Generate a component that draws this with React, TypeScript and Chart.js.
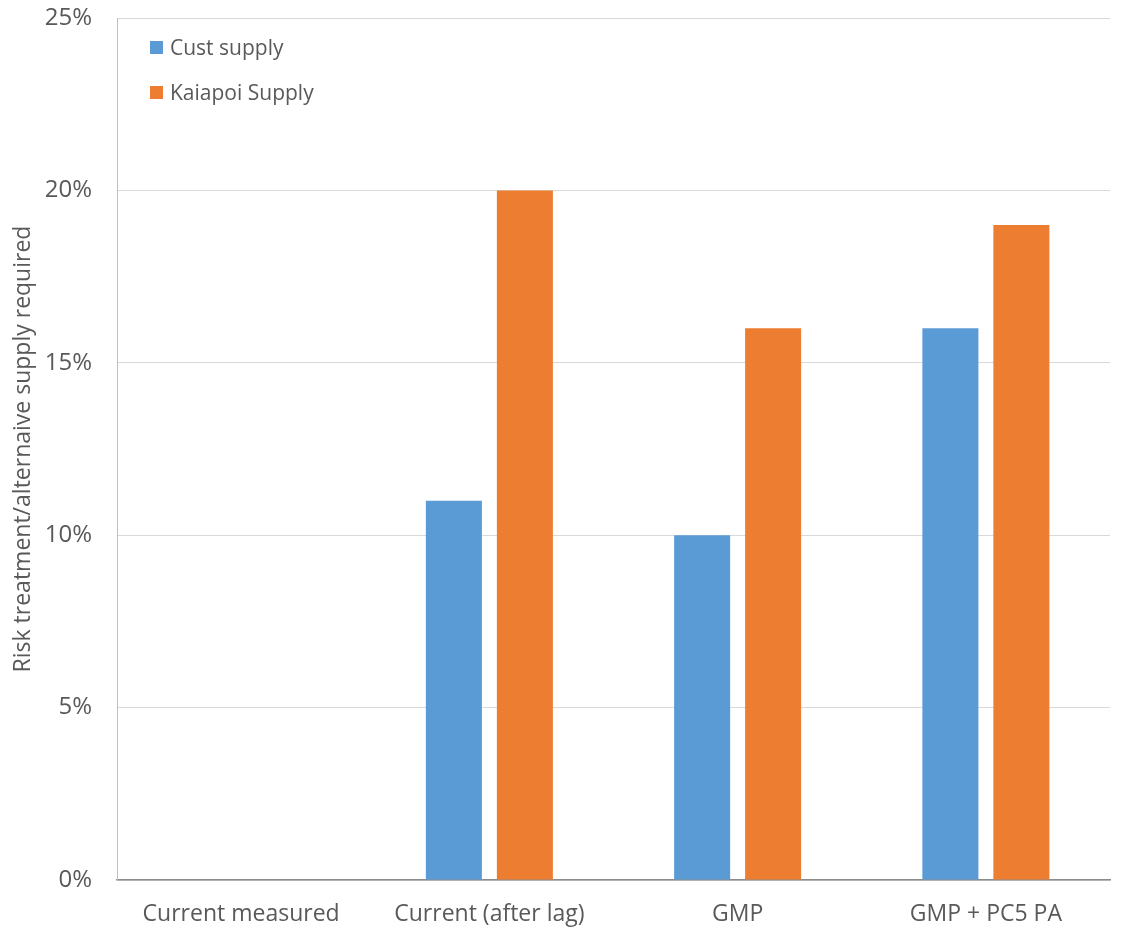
import React, { useEffect, useRef } from "react";
import { Chart, registerables } from "chart.js";

Chart.register(...registerables);

const categories = ["Current measured", "Current (after lag)", "GMP", "GMP + PC5 PA"];
const custSupply = [0, 11, 10, 16];
const kaiapoiSupply = [0, 20, 16, 19];
const seriesNames = ["Cust supply", "Kaiapoi Supply"];
const seriesColors = ["#5b9bd5", "#ed7d31"];
const yTicks = [0, 5, 10, 15, 20, 25];
const yTitle = "Risk treatment/alternaive supply required";

const FONT = "'Open Sans', 'Noto Sans', sans-serif";
const TEXT = "#595959";

const legendPlugin = {
  id: "insideLegend",
  afterDraw(chart: any) {
    const ctx = chart.ctx;
    const area = chart.chartArea;
    ctx.save();
    ctx.font = `21px ${FONT}`;
    ctx.textBaseline = "middle";
    chart.data.datasets.forEach((ds: any, i: number) => {
      const y = area.top + 30 + i * 45;
      const x = area.left + 33;
      ctx.fillStyle = ds.backgroundColor;
      ctx.fillRect(x, y - 7, 13, 13);
      ctx.fillStyle = TEXT;
      ctx.fillText(ds.label, x + 20, y + 1);
    });
    ctx.restore();
  },
};

export default function App() {
  const ref = useRef<HTMLCanvasElement | null>(null);
  useEffect(() => {
    if (!ref.current) return;
    const chart = new Chart(ref.current, {
      type: "bar",
      data: {
        labels: categories,
        datasets: [
          {
            label: seriesNames[0],
            data: custSupply,
            backgroundColor: seriesColors[0],
            categoryPercentage: 0.572,
            barPercentage: 0.789,
          },
          {
            label: seriesNames[1],
            data: kaiapoiSupply,
            backgroundColor: seriesColors[1],
            categoryPercentage: 0.572,
            barPercentage: 0.789,
          },
        ],
      },
      options: {
        responsive: false,
        animation: false,
        layout: { padding: { top: 18, right: 26, left: 0, bottom: 0 } },
        plugins: {
          legend: { display: false },
          tooltip: { enabled: false },
        },
        scales: {
          x: {
            grid: { display: false, drawTicks: false },
            border: { color: "#8c8c8c", width: 1.5 },
            ticks: {
              color: TEXT,
              font: { family: FONT, size: 23 },
              padding: 21,
              maxRotation: 0,
              autoSkip: false,
            },
            afterFit(scale: any) {
              scale.height = 48;
            },
          },
          y: {
            min: 0,
            max: 25,
            afterBuildTicks(scale: any) {
              scale.ticks = yTicks.map((v) => ({ value: v }));
            },
            grid: {
              color: "#d9d9d9",
              drawTicks: true,
              tickLength: 25,
              tickColor: "rgba(0,0,0,0)",
              lineWidth: 1,
            },
            border: { color: "#bfbfbf", width: 1 },
            ticks: {
              color: TEXT,
              font: { family: FONT, size: 24 },
              padding: 0,
              callback: (v: any) => `${v}%`,
            },
            title: {
              display: true,
              text: yTitle,
              color: TEXT,
              font: { family: FONT, size: 23 },
              padding: { top: 10, bottom: 0 },
            },
            afterFit(scale: any) {
              scale.width = 117;
            },
          },
        },
      },
      plugins: [legendPlugin],
    });
    return () => chart.destroy();
  }, []);
  return (
    <div style={{ position: "fixed", left: 0, top: 0, width: 1136, height: 928, background: "#fff" }}>
      <canvas ref={ref} width={1136} height={928} />
    </div>
  );
}
